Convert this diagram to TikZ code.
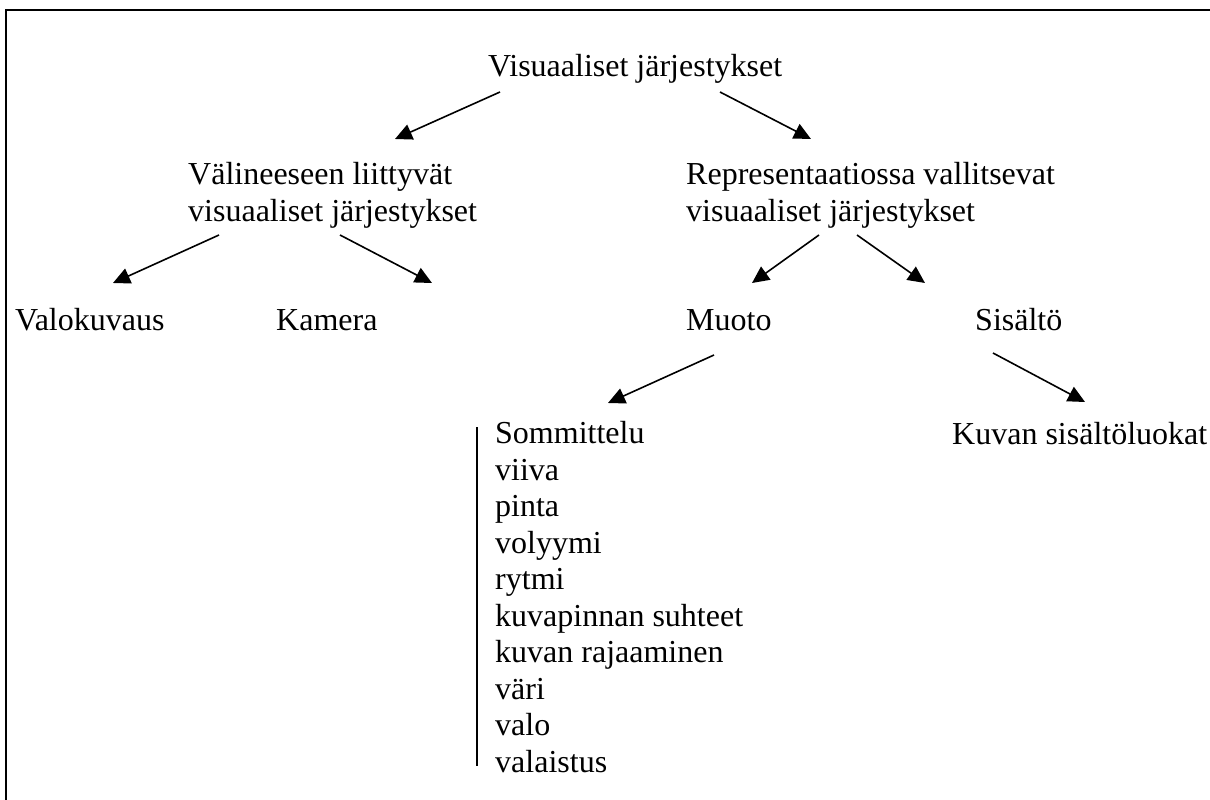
\documentclass[tikz,border=0pt]{standalone}
\usepackage{fontspec}
\setmainfont{Liberation Serif}
\usetikzlibrary{arrows.meta}

\begin{document}
\begin{tikzpicture}[x=1pt, y=-1pt,
    lbl/.style = {inner sep=0pt, anchor=base west, align=left,% texts of the tree
                  font=\fontsize{32}{36.5}\selectfont},
    arr/.style = {line width=1.6pt,% arrows between levels
                  -{Triangle[length=17pt,width=16pt]}},
                        ]
\useasboundingbox (0,0) rectangle (1210,800);
\draw[line width=2pt] (6,820) -- (6,10) -- (1230,10);% frame, cut by the page
% level 1 and 2 (base = last line)
\node[lbl] (top)  at (488,77)  {Visuaaliset järjestykset};
\node[lbl] (vali) at (188,221) {Välineeseen liittyvät\\visuaaliset järjestykset};
\node[lbl] (repr) at (686,221) {Representaatiossa vallitsevat\\visuaaliset järjestykset};
% level 3
\node[lbl] (valo) at (15,330)  {Valokuvaus};
\node[lbl] (kam)  at (276,330) {Kamera};
\node[lbl] (muo)  at (686,330) {Muoto};
\node[lbl] (sis)  at (975,330) {Sisältö};
% level 4
\node[lbl] (som)  at (495,772) {Sommittelu\\viiva\\pinta\\volyymi\\rytmi\\kuvapinnan suhteet\\kuvan rajaaminen\\väri\\valo\\valaistus};
\node[lbl] (kuv)  at (952,444) {Kuvan sisältöluokat};
\coordinate (som-bar-a) at (477,427);
\coordinate (som-bar-b) at (477,766);
\draw[line width=1.5pt] (som-bar-a) -- (som-bar-b);
% arrow ends
\coordinate (top-l)  at (500,92);  \coordinate (vali-n) at (395,139);
\coordinate (top-r)  at (720,92);  \coordinate (repr-n) at (811,139);
\coordinate (vali-l) at (219,235); \coordinate (valo-n) at (113,283);
\coordinate (vali-r) at (340,235); \coordinate (kam-n)  at (432,283);
\coordinate (repr-l) at (819,235); \coordinate (muo-n)  at (752,283);
\coordinate (repr-r) at (857,235); \coordinate (sis-n)  at (925,283);
\coordinate (muo-s)  at (714,355); \coordinate (som-n)  at (608,403);
\coordinate (sis-s)  at (993,353); \coordinate (kuv-n)  at (1085,402);
\foreach \a/\b in {top-l/vali-n, top-r/repr-n, vali-l/valo-n, vali-r/kam-n,
                   repr-l/muo-n, repr-r/sis-n, muo-s/som-n, sis-s/kuv-n}
    \draw[arr] (\a) -- (\b);
\end{tikzpicture}
\end{document}
